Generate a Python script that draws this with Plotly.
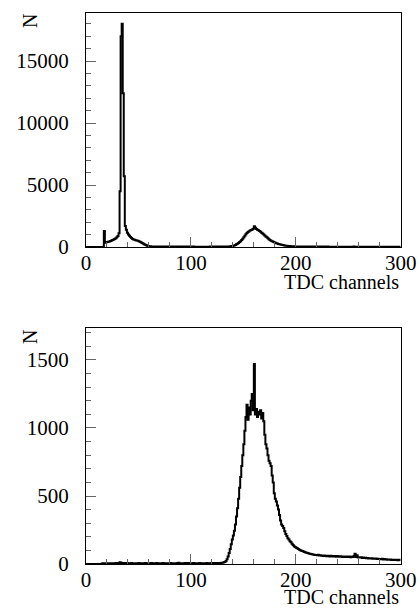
import plotly.graph_objects as go

# Bin edges (1 TDC channel per bin, 0..300)
channels = list(range(300))

top_counts = [
    0,0,0,0,0,0,0,0,0,0, 0,0,0,0,0,0,0,1300,350,380,
    400,420,450,480,520,560,600,650,700,780, 880,1100,4500,17000,18000,12400,5700,1700,1400,1150,
    1000,900,800,720,650,610,580,550,530,500, 470,430,380,330,280,230,180,140,100,80,
    60,55,50,48,45,44,42,40,42,38, 40,38,36,40,37,35,38,36,34,37,
    35,33,36,34,32,35,33,31,34,32, 30,33,31,29,32,30,31,29,30,32,
    30,28,31,29,30,28,30,29,27,30, 28,29,27,30,28,29,30,28,31,30,
    29,31,30,32,30,33,31,34,33,35, 34,36,38,40,42,45,50,55,65,80,
    100,130,170,220,270,330,400,470,560,660, 780,900,1020,1120,1200,1280,1340,1380,1420,1480,
    1680,1560,1450,1400,1350,1300,1230,1150,1080,1000, 920,850,780,700,620,560,500,460,420,380,
    340,310,280,250,230,200,180,160,140,125, 110,100,90,80,75,70,65,60,55,50,
    48,46,45,44,42,43,41,40,39,40, 38,37,38,36,35,37,34,35,33,34,
    33,32,34,31,32,30,33,31,30,29, 31,30,28,30,29,27,29,28,30,27,
    28,26,29,27,26,28,25,27,26,25, 27,25,26,24,30,45,28,25,24,26,
    24,25,23,24,22,25,23,22,24,21, 23,22,21,23,20,22,21,20,22,20,
    21,19,20,22,19,20,18,21,19,20, 18,19,17,20,18,19,17,18,19,17,
]

bottom_counts = [
    0,0,0,0,0,0,0,0,0,0, 0,0,0,0,0,3,5,4,6,3,
    5,4,6,5,3,6,4,5,7,5, 6,8,12,10,7,6,8,5,6,7,
    5,6,4,7,5,6,5,4,6,5, 7,5,6,4,5,6,8,5,4,6,
    5,6,7,5,4,6,5,7,6,5, 4,6,5,7,5,6,4,5,6,5,
    7,5,6,4,5,6,5,7,9,6, 5,6,4,5,7,6,5,8,6,5,
    6,5,7,5,6,4,5,6,7,5, 6,5,4,6,5,7,6,5,6,7,
    6,5,7,6,8,7,6,8,7,9, 10,12,15,22,35,55,80,110,145,180,
    210,245,290,350,410,480,560,640,720,800, 880,980,1080,1170,1060,1150,1100,1200,1250,1130,
    1470,1100,1140,1080,1120,1100,1130,1070,1110,1050, 950,880,850,800,760,740,720,650,600,520,
    480,460,430,400,360,320,290,280,265,240, 220,205,190,180,168,160,148,140,130,125,
    120,115,110,105,102,98,95,92,88,85, 82,80,78,75,74,72,70,68,67,66,
    65,68,62,64,60,63,58,62,60,57, 61,59,56,60,58,55,59,57,54,58,
    56,53,57,55,52,56,54,51,55,53, 52,55,50,54,51,58,75,52,65,48,
    50,47,49,45,48,44,46,42,45,41, 43,40,42,39,41,38,40,37,39,36,
    37,35,38,34,36,33,35,32,34,31, 33,30,32,31,29,32,30,28,31,29,
]

x_ticks = [0, 100, 200, 300]
x_tick_labels = ["0", "100", "200", "300"]
top_y_ticks = [0, 5000, 10000, 15000]
top_y_labels = ["0", "5000", "10000", "15000"]
bottom_y_ticks = [0, 500, 1000, 1500]
bottom_y_labels = ["0", "500", "1000", "1500"]

W, H = 420, 611
x0, x1 = 86, 400.7
top_t, top_b = 12.7, 247
bot_t, bot_b = 328.3, 564

edges = channels + [300]

fig = go.Figure()
fig.add_trace(go.Scatter(x=edges, y=top_counts + [top_counts[-1]], mode="lines",
                         line=dict(shape="hv", color="black", width=2),
                         xaxis="x", yaxis="y", showlegend=False, hoverinfo="skip"))
fig.add_trace(go.Scatter(x=edges, y=bottom_counts + [bottom_counts[-1]], mode="lines",
                         line=dict(shape="hv", color="black", width=2),
                         xaxis="x2", yaxis="y2", showlegend=False, hoverinfo="skip"))

font = dict(family="Liberation Serif", size=21, color="black")

def xax(anchor):
    return dict(domain=[x0 / W, x1 / W], anchor=anchor, range=[0, 300],
                tickvals=x_ticks, ticktext=x_tick_labels,
                ticks="inside", ticklen=10, tickcolor="#666",
                minor=dict(dtick=20, tick0=0, ticks="inside", ticklen=5, tickcolor="#666"),
                showline=True, linecolor="black", linewidth=1, mirror=True,
                showgrid=False, zeroline=False, tickfont=font, automargin=False,
                ticklabelstandoff=-3)

def yax(anchor, dom, rng, tv, tt, minor_dt):
    return dict(domain=dom, anchor=anchor, range=rng, tickvals=tv, ticktext=tt,
                ticks="inside", ticklen=10, tickcolor="#666",
                minor=dict(dtick=minor_dt, tick0=0, ticks="inside", ticklen=5, tickcolor="#666"),
                showline=True, linecolor="black", linewidth=1, mirror=True,
                showgrid=False, zeroline=False, tickfont=font, automargin=False,
                ticklabelstandoff=12)

fig.update_layout(
    width=W, height=H, margin=dict(l=0, r=0, t=0, b=0, autoexpand=False),
    paper_bgcolor="white", plot_bgcolor="white", showlegend=False,
    xaxis=xax("y"),
    yaxis=yax("x", [1 - top_b / H, 1 - top_t / H], [0, 18900], top_y_ticks, top_y_labels, 1000),
    xaxis2=xax("y2"),
    yaxis2=yax("x2", [1 - bot_b / H, 1 - bot_t / H], [0, 1733], bottom_y_ticks, bottom_y_labels, 100),
)

ann_font = dict(family="Liberation Serif", size=20, color="black")
for yc_n, yc_t in [(21, 282), (337, 597)]:
    fig.add_annotation(text="N", x=30 / W, y=1 - yc_n / H, xref="paper", yref="paper",
                       showarrow=False, textangle=-90, font=ann_font,
                       xanchor="center", yanchor="middle")
    fig.add_annotation(text="TDC channels", x=401 / W, y=1 - yc_t / H, xref="paper", yref="paper",
                       showarrow=False, font=ann_font, xanchor="right", yanchor="middle")

fig.write_html("out.html", config={"displayModeBar": False},
               post_script="document.body.style.margin='0';document.body.style.overflow='hidden';")
